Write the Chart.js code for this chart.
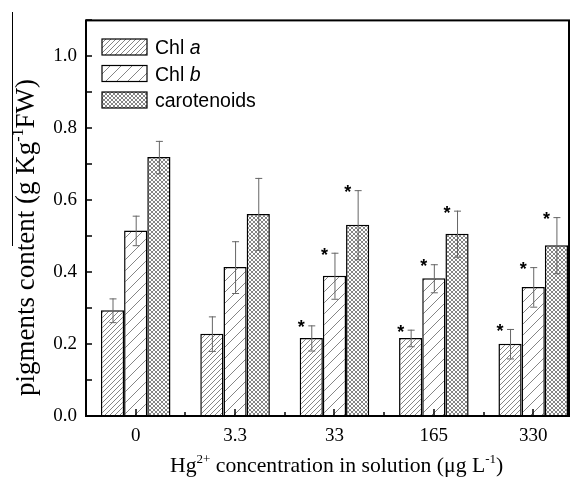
<!DOCTYPE html>
<html>
<head>
<meta charset="utf-8">
<script src="https://cdn.jsdelivr.net/npm/chart.js@4.4.1/dist/chart.umd.min.js"></script>
<style>
  body { margin: 0; background: #fff; }
  canvas { display: block; }
</style>
</head>
<body>
<canvas id="pigChart" width="571" height="482"></canvas>
<script>
// Hg2+ levels (x categories)
const categories = ["0", "3.3", "33", "165", "330"];
const seriesNames = ["Chl a", "Chl b", "carotenoids"];

// means and error bars
const chlA = [0.294, 0.229, 0.217, 0.217, 0.201];
const chlAErr = [0.033, 0.048, 0.035, 0.023, 0.041];
const chlB = [0.516, 0.414, 0.390, 0.383, 0.359];
const chlBErr = [0.041, 0.072, 0.064, 0.039, 0.055];
const carot = [0.720, 0.562, 0.532, 0.507, 0.475];
const carotErr = [0.045, 0.100, 0.096, 0.064, 0.078];

// significance marks (*)
const chlASig = [0, 0, 1, 1, 1];
const chlBSig = [0, 0, 1, 1, 1];
const carotSig = [0, 0, 1, 1, 1];

const yTicks = [0, 0.2, 0.4, 0.6, 0.8, 1.0];

// hatch fills
function hatch(size, cross) {
  const c = document.createElement("canvas");
  c.width = size; c.height = size;
  const g = c.getContext("2d");
  g.fillStyle = "#fff";
  g.fillRect(0, 0, size, size);
  g.strokeStyle = "#777";
  g.lineWidth = 0.9;
  g.beginPath();
  g.moveTo(-1, size + 1); g.lineTo(size + 1, -1);
  g.moveTo(-1, 1); g.lineTo(1, -1);
  g.moveTo(size - 1, size + 1); g.lineTo(size + 1, size - 1);
  if (cross) {
    g.moveTo(-1, -1); g.lineTo(size + 1, size + 1);
    g.moveTo(size - 1, -1); g.lineTo(size + 1, 1);
    g.moveTo(-1, size - 1); g.lineTo(1, size + 1);
  }
  g.stroke();
  return g.createPattern(c, "repeat");
}
const fills = [hatch(5, false), hatch(11, false), hatch(4, true)];

const values = [chlA, chlB, carot];
const errors = [chlAErr, chlBErr, carotErr];
const sigs = [chlASig, chlBSig, carotSig];

const serif = '"Liberation Serif", "Times New Roman", serif';
const sans = '"Liberation Sans", Arial, sans-serif';

const extras = {
  id: "extras",
  afterDatasetsDraw(chart) {
    const ctx = chart.ctx;
    const xs = chart.scales.x, ys = chart.scales.y;
    const area = chart.chartArea;
    ctx.save();
    // error bars and stars
    values.forEach((vals, d) => {
      const meta = chart.getDatasetMeta(d);
      meta.data.forEach((bar, i) => {
        const top = ys.getPixelForValue(vals[i] + errors[d][i]);
        const bot = ys.getPixelForValue(vals[i] - errors[d][i]);
        ctx.strokeStyle = "#666";
        ctx.lineWidth = 1;
        ctx.beginPath();
        ctx.moveTo(bar.x + 0.5, top); ctx.lineTo(bar.x + 0.5, bot);
        ctx.moveTo(bar.x - 3, top + 0.5); ctx.lineTo(bar.x + 4, top + 0.5);
        ctx.moveTo(bar.x - 3, bot + 0.5); ctx.lineTo(bar.x + 4, bot + 0.5);
        ctx.stroke();
        if (sigs[d][i]) {
          ctx.fillStyle = "#000";
          ctx.font = "bold 18px " + sans;
          ctx.textAlign = "center";
          ctx.textBaseline = "alphabetic";
          ctx.fillText("*", bar.x - 10, top + 8);
        }
      });
    });
    // inward ticks
    ctx.strokeStyle = "#000";
    ctx.lineWidth = 1.5;
    ctx.beginPath();
    for (let v = 0.1; v < 1.1; v += 0.1) {
      const y = Math.round(ys.getPixelForValue(v));
      ctx.moveTo(area.left, y); ctx.lineTo(area.left + 6, y);
    }
    categories.forEach((c, i) => {
      const x = Math.round(xs.getPixelForValue(i));
      ctx.moveTo(x, area.bottom); ctx.lineTo(x, area.bottom - 7);
      if (i < categories.length - 1) {
        const xm = Math.round(xs.getPixelForValue(i + 0.5));
        ctx.moveTo(xm, area.bottom); ctx.lineTo(xm, area.bottom - 4);
      }
    });
    ctx.stroke();
    // frame
    ctx.lineWidth = 2;
    ctx.strokeRect(area.left, area.top, area.right - area.left, area.bottom - area.top);
    ctx.restore();
  },
  afterDraw(chart) {
    const ctx = chart.ctx;
    ctx.save();
    ctx.fillStyle = "#000";
    ctx.textBaseline = "alphabetic";
    ctx.textAlign = "left";

    // legend
    const names = [["Chl ", "a"], ["Chl ", "b"], ["carotenoids", ""]];
    names.forEach((n, i) => {
      const y = 39 + i * 26.5;
      ctx.fillStyle = fills[i];
      ctx.fillRect(102, y, 45, 16);
      ctx.strokeStyle = "#000";
      ctx.lineWidth = 1.2;
      ctx.strokeRect(102, y, 45, 16);
      ctx.fillStyle = "#000";
      ctx.font = "19.5px " + sans;
      ctx.fillText(n[0], 155, y + 15);
      if (n[1]) {
        const w = ctx.measureText(n[0]).width;
        ctx.font = "italic 19.5px " + sans;
        ctx.fillText(n[1], 155 + w, y + 15);
      }
    });

    // x title with superscripts
    const xParts = [["Hg", 0], ["2+", 1], [" concentration in solution (\u03bcg L", 0], ["-1", 1], [")", 0]];
    drawParts(ctx, xParts, 170, 472, 21.7);

    // y title, rotated
    ctx.save();
    ctx.translate(34, 396);
    ctx.rotate(-Math.PI / 2);
    const yParts = [["pigments content (g Kg", 0], ["-1", 1], ["FW)", 0]];
    drawParts(ctx, yParts, 0, 0, 27);
    ctx.restore();
    // stray overline seen in the figure
    ctx.strokeStyle = "#000";
    ctx.lineWidth = 1;
    ctx.beginPath();
    ctx.moveTo(12.5, 12); ctx.lineTo(12.5, 246);
    ctx.stroke();
    ctx.restore();
  }
};

function drawParts(ctx, parts, x, y, size) {
  parts.forEach(p => {
    const sup = p[1] === 1;
    ctx.font = (sup ? Math.round(size * 0.6) : size) + "px " + serif;
    ctx.fillText(p[0], x, sup ? y - size * 0.42 : y);
    x += ctx.measureText(p[0]).width;
  });
}

const datasets = values.map((vals, d) => ({
  label: seriesNames[d],
  data: vals.map((v, i) => ({ x: i, y: v })),
  backgroundColor: fills[d],
  borderColor: "#000",
  borderWidth: 1.5,
  categoryPercentage: 0.7,
  barPercentage: 1.0
}));

new Chart(document.getElementById("pigChart"), {
  type: "bar",
  data: { datasets: datasets },
  options: {
    responsive: false,
    animation: false,
    devicePixelRatio: 1,
    layout: { padding: { left: 0, top: 13, right: 2, bottom: 0 } },
    plugins: { legend: { display: false }, tooltip: { enabled: false } },
    scales: {
      x: {
        type: "linear",
        offset: false,
        min: -0.5,
        max: 4.36,
        grid: { display: false, drawTicks: false, offset: false },
        border: { display: false },
        afterBuildTicks: s => { s.ticks = categories.map((c, i) => ({ value: i })); },
        ticks: {
          callback: v => categories[v],
          font: { family: serif, size: 19 },
          color: "#000",
          padding: 9,
          maxRotation: 0,
          autoSkip: false
        },
        afterFit: s => { s.height = 66; }
      },
      y: {
        min: 0,
        max: 1.1,
        grid: { display: false, drawTicks: false },
        border: { display: false },
        afterBuildTicks: s => { s.ticks = yTicks.map(v => ({ value: v })); },
        ticks: {
          callback: v => v.toFixed(1),
          font: { family: serif, size: 19 },
          color: "#000",
          padding: 9
        },
        afterFit: s => { s.width = 86; }
      }
    }
  },
  plugins: [extras]
});
</script>
</body>
</html>
